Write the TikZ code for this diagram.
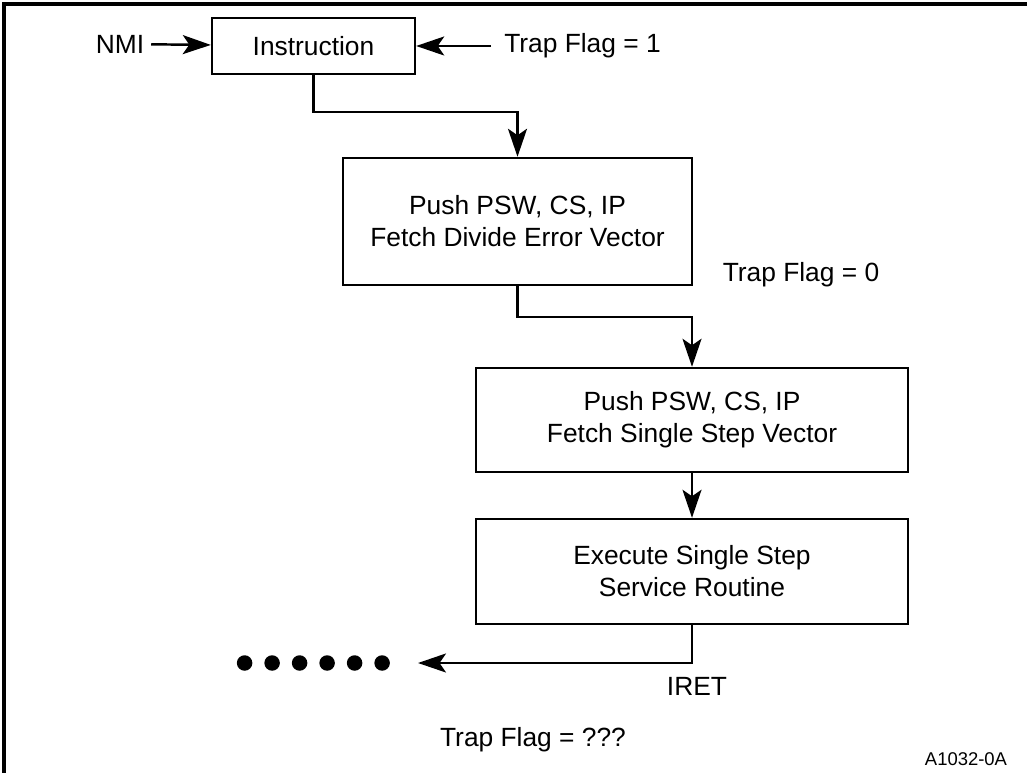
\documentclass[tikz,border=0pt]{standalone}
\usepackage{fontspec}
\setmainfont{Liberation Sans}
\usetikzlibrary{arrows.meta}
\usetikzlibrary{calc}
\tikzset{>={Stealth[length = 0.56cm, width = 0.38cm, inset = 0.13cm]}}
\tikzset{stepbox/.style = {draw, line width = 1.4pt, align = center, inner sep = 0pt}}

\begin{document}
\begin{tikzpicture}[font = {\fontsize{15pt}{18.2pt}\selectfont}, x = 0.02cm, y = -0.02cm, line width = 1.4pt]
\useasboundingbox (0, 0) rectangle (1027, 773);

% frame (left and top only)
\draw[line width = 0.08cm] (4, 773) -- (4, 4) -- (1027, 4);

\node[stepbox, minimum width = 4.06cm, minimum height = 1.12cm] (INS) at (313.5, 46) {Instruction};
\node[stepbox, minimum width = 6.98cm, minimum height = 2.54cm] (DIV) at (517.5, 221.5) {Push PSW, CS, IP \\ Fetch Divide Error Vector};
\node[stepbox, minimum width = 8.64cm, minimum height = 2.08cm] (SSV) at (692, 420) {Push PSW, CS, IP \\ Fetch Single Step Vector};
\node[stepbox, minimum width = 8.64cm, minimum height = 2.1cm] (ISR) at (692, 571.5) {Execute Single Step \\ Service Routine};

\node (NMI) at (120, 44) {NMI};
\node (TF1) at (582.5, 46) {Trap Flag = 1};
\node (TF0) at (801, 275) {Trap Flag = 0};
\node (IRET) at (697, 686) {IRET};
\node (TFQ) at (533, 740) {Trap Flag = ???};
\node[font = {\fontsize{10.5pt}{12pt}\selectfont}] (FIG) at (966, 759) {A1032-0A};

\foreach \i in {0, ..., 5}
	\fill (244.6 + 27.5*\i, 663) circle [radius = 0.155cm];
\coordinate (DOTS-E) at (418, 663);

\draw[->] (NMI) -- (INS);

\draw[->, shorten <= 0.12cm] (TF1) -- (INS);

\draw[->] (INS.south) -- ++(0, 37) -| (DIV.north);

\draw[->] (DIV.south) -- ++(0, 31) -| (SSV.north);

\draw[->] (SSV) -- (ISR);

\draw[->] (ISR.south) |- (DOTS-E);
\end{tikzpicture}
\end{document}
